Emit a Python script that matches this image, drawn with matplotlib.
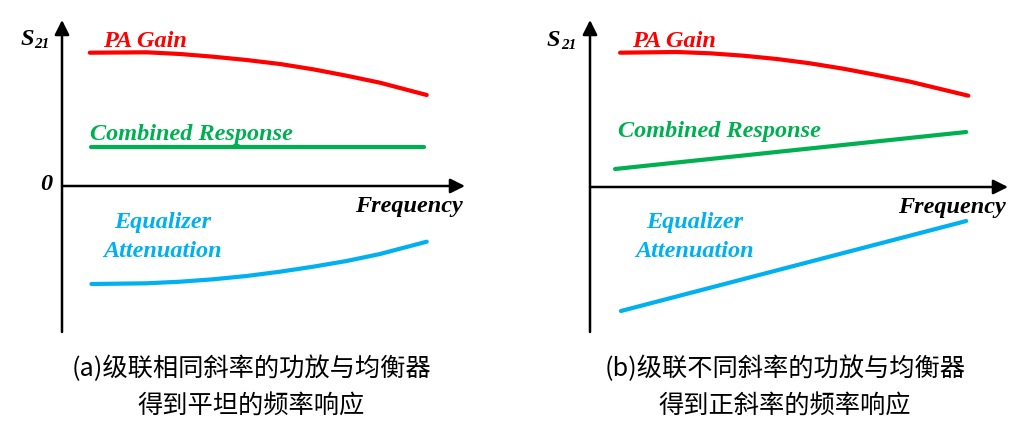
import matplotlib.pyplot as plt
import numpy as np

plt.rcParams['font.family'] = ['Noto Sans CJK SC', 'DejaVu Sans']

# panel (a): same slope -> flat response
freq_a = [0.069, 0.210, 0.293, 0.375, 0.458, 0.541, 0.623, 0.706, 0.789, 0.905]
pa_gain_a = [13.33, 13.37, 13.2, 12.93, 12.6, 12.2, 11.67, 11.03, 10.33, 9.1]
eq_freq_a = [0.073, 0.210, 0.293, 0.375, 0.458, 0.541, 0.623, 0.706, 0.789, 0.905]
eq_att_a = [-9.8, -9.73, -9.57, -9.33, -9.0, -8.57, -8.07, -7.5, -6.8, -5.57]
comb_freq_a = [0.072, 0.898]
comb_a = [3.9, 3.9]

# panel (b): different slope -> positive slope
freq_b = [0.072, 0.207, 0.287, 0.367, 0.447, 0.526, 0.606, 0.686, 0.766, 0.905]
pa_gain_b = [13.43, 13.5, 13.37, 13.13, 12.8, 12.37, 11.83, 11.2, 10.53, 9.13]
eq_freq_b = [0.074, 0.900]
eq_att_b = [-12.4, -3.4]
comb_freq_b = [0.060, 0.900]
comb_b = [1.8, 5.5]

captions = ['(a)级联相同斜率的功放与均衡器\n得到平坦的频率响应',
            '(b)级联不同斜率的功放与均衡器\n得到正斜率的频率响应']

red = '#ff0000'
green = '#00b050'
blue = '#00b0f0'
serif = 'Liberation Serif'

fig = plt.figure(figsize=(10.35, 4.44), dpi=100)


def panel(rect, ylim, show_zero):
    ax = fig.add_axes(rect)
    ax.set_xlim(0, 1)
    ax.set_ylim(ylim)
    ax.axis('off')
    ap = dict(arrowstyle='-|>', lw=1.8, color='black', mutation_scale=22,
              shrinkA=0, shrinkB=0)
    ax.annotate('', xy=(0, ylim[1]), xytext=(0, ylim[0]), arrowprops=ap,
                annotation_clip=False)
    ax.annotate('', xy=(1, 0), xytext=(0, 0), arrowprops=ap,
                annotation_clip=False)
    tk = dict(family=serif, fontweight='bold', fontstyle='italic')
    ax.text(-0.103, 14.1, 'S', fontsize=17.5, ha='left', va='baseline', **tk)
    ax.text(-0.070, 13.8, '21', fontsize=11, ha='left', va='baseline', **tk)
    if show_zero:
        ax.text(-0.025, 0.15, '0', fontsize=17.5, ha='right', va='center', **tk)
    ax.text(0.995, -2.6, 'Frequency', fontsize=17.5, ha='right', va='baseline', **tk)
    return ax, tk


# (a)
ax, tk = panel([62/1035, 112/444, 403/1035, 312/444], (-14.6, 16.6), True)
ax.plot(freq_a, pa_gain_a, color=red, lw=3, solid_capstyle='round', solid_joinstyle='round')
ax.plot(comb_freq_a, comb_a, color=green, lw=3, solid_capstyle='round')
ax.plot(eq_freq_a, eq_att_a, color=blue, lw=3, solid_capstyle='round', solid_joinstyle='round')
ax.text(0.102, 13.9, 'PA Gain', color=red, fontsize=17.5, va='baseline', **tk)
ax.text(0.069, 4.6, 'Combined Response', color=green, fontsize=17.5, va='baseline', **tk)
ax.text(0.25, -4.2, 'Equalizer', color=blue, fontsize=17.5, ha='center', va='baseline', **tk)
ax.text(0.25, -7.1, 'Attenuation', color=blue, fontsize=17.5, ha='center', va='baseline', **tk)

# (b)
ax, tk = panel([590/1035, 112/444, 418/1035, 312/444], (-14.5, 16.7), False)
ax.plot(freq_b, pa_gain_b, color=red, lw=3, solid_capstyle='round', solid_joinstyle='round')
ax.plot(comb_freq_b, comb_b, color=green, lw=3, solid_capstyle='round')
ax.plot(eq_freq_b, eq_att_b, color=blue, lw=3, solid_capstyle='round')
ax.text(0.100, 14.0, 'PA Gain', color=red, fontsize=17.5, va='baseline', **tk)
ax.text(0.067, 5.0, 'Combined Response', color=green, fontsize=17.5, va='baseline', **tk)
ax.text(0.251, -4.1, 'Equalizer', color=blue, fontsize=17.5, ha='center', va='baseline', **tk)
ax.text(0.251, -7.0, 'Attenuation', color=blue, fontsize=17.5, ha='center', va='baseline', **tk)

for cx, cap in zip([251/1035, 785/1035], captions):
    fig.text(cx, 1 - 387/444, cap, ha='center', va='center', fontsize=18.2,
             linespacing=1.5)

plt.savefig('out.png', dpi=100)
